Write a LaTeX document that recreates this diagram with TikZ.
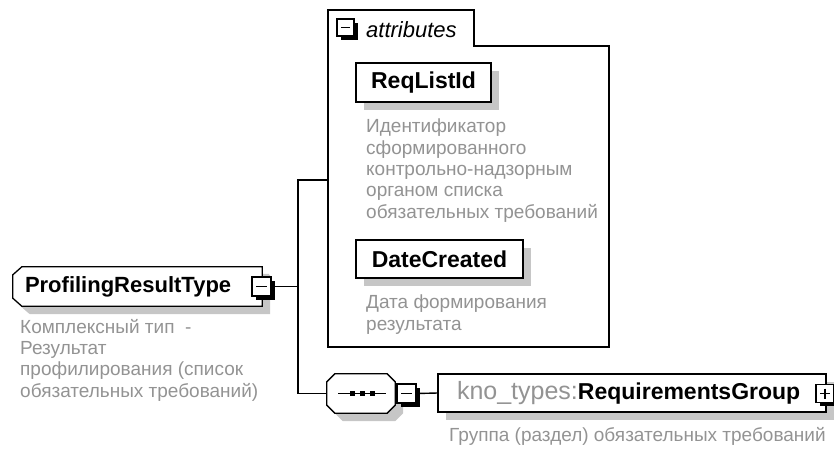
\documentclass[tikz,border=0pt]{standalone}
\usepackage{fontspec}
\setmainfont{Liberation Sans}
\usetikzlibrary{calc,positioning,shadows,backgrounds}
\definecolor{ink}{HTML}{000000}
\definecolor{dsc}{HTML}{939393}
\definecolor{shd}{HTML}{C6C6C6}
\newcommand{\descfont}{\fontsize{19}{21.3}\selectfont}
\newcommand{\elfont}{\fontsize{23}{26}\selectfont\bfseries}

\begin{document}
\begin{tikzpicture}[x=1pt,y=-1pt,
  wire/.style={draw=ink,line width=1.4pt},
  elem/.style={draw=ink,line width=1.3pt,fill=white,font=\elfont,inner sep=0pt,
    drop shadow={shadow xshift=8pt,shadow yshift=-8pt,fill=shd,opacity=1}},
  togbox/.style={draw=ink,line width=1.3pt,fill=white,minimum width=#1,minimum height=#1,inner sep=0pt,outer sep=0pt,
    drop shadow={shadow xshift=3.5pt,shadow yshift=-3.5pt,fill=ink,opacity=1}},
  minusbox/.style={togbox=#1,path picture={\draw[line width=1.3pt] ([xshift=4pt]path picture bounding box.west) -- ([xshift=-4pt]path picture bounding box.east);}},
  plusbox/.style={togbox=#1,path picture={\draw[line width=1.3pt] ([xshift=4pt]path picture bounding box.west) -- ([xshift=-4pt]path picture bounding box.east) ([yshift=-4pt]path picture bounding box.north) -- ([yshift=4pt]path picture bounding box.south);}},
  desc/.style={anchor=north west,inner sep=0pt,align=left,font=\descfont,text=dsc}]

\useasboundingbox (0,0) rectangle (834,448);

% attributes frame
\draw[ink,line width=1.3pt,fill=white] (328,10) -- (474,10) -- (474,46) -- (609,46) -- (609,347) -- (328,347) -- cycle;
\node[minusbox=17pt] (attrtog) at (345.5,27.5) {};
\node[anchor=west,inner sep=0pt,font=\fontsize{22}{26}\selectfont\itshape] (attr) at (366,30) {attributes};
\coordinate (attrin) at (328,180);

\node[elem,minimum width=135pt,minimum height=39pt] (reqlist) at (423.5,82.5) {ReqListId};
\node[desc] (reqlistd) at (366,119) {Идентификатор\\сформированного\\контрольно-надзорным\\органом списка\\обязательных требований};
\node[elem,minimum width=167pt,minimum height=38pt] (datecr) at (439.5,259) {DateCreated};
\node[desc] (datecrd) at (366,295) {Дата формирования\\результата};

% complex type
\node[inner sep=0pt,minimum width=249pt,minimum height=39pt,text width=225pt,align=left,font=\fontsize{22}{26}\selectfont\bfseries] (prof) at (137.5,286.5) {ProfilingResultType};
\node[minusbox=19pt] (proftog) at (261.5,286.5) {};
\node[desc] (profd) at (20,319) {Комплексный тип\ \ -\\Результат\\профилирования (список\\обязательных требований)};

% sequence
\node[inner sep=0pt,minimum width=68pt,minimum height=39pt] (seq) at (361,393.5) {};
\draw[ink,line width=1.2pt] ([xshift=-23pt]seq.center) -- ([xshift=25pt]seq.center);
\foreach \dx in {-9,1,11} \fill[ink] ([xshift=\dx pt]seq.center) +(-2.5,-2.5) rectangle +(2.5,2.5);
\node[minusbox=19pt] (seqtog) at (406.5,393.5) {};

\node[elem,minimum width=388pt,minimum height=38pt,text width=350pt,align=left] (grp) at (632,393) {\textcolor{dsc}{\fontsize{25}{26}\selectfont\mdseries kno\_types:}RequirementsGroup};
\node[plusbox=18pt] (grptog) at (825,393.5) {};
\node[desc] (grpd) at (449,427) {Группа (раздел) обязательных требований};

% outlines with cut corners
\begin{scope}[on background layer]
\draw[elem,drop shadow={shadow xshift=7pt,shadow yshift=-7pt,fill=shd,opacity=1}]
  ([xshift=9pt]prof.north west) -- (prof.north east) -- (prof.south east) -- ([xshift=9pt]prof.south west)
  -- ([yshift=8pt]prof.south west) -- ([yshift=-8pt]prof.north west) -- cycle;
\draw[elem]
  ([xshift=8pt]seq.north west) -- ([xshift=-8pt]seq.north east) -- ([yshift=-8pt]seq.north east) -- ([yshift=8pt]seq.south east)
  -- ([xshift=-8pt]seq.south east) -- ([xshift=8pt]seq.south west) -- ([yshift=8pt]seq.south west) -- ([yshift=-8pt]seq.north west) -- cycle;
\end{scope}

% connectors
\draw[wire] (proftog.east) -- (proftog.east -| 298,0);
\draw[wire] (attrin) -| (298,0 |- seq.west) -- (seq.west);
\draw[wire] (seqtog.east) -- (grp.west);

\end{tikzpicture}
\end{document}
